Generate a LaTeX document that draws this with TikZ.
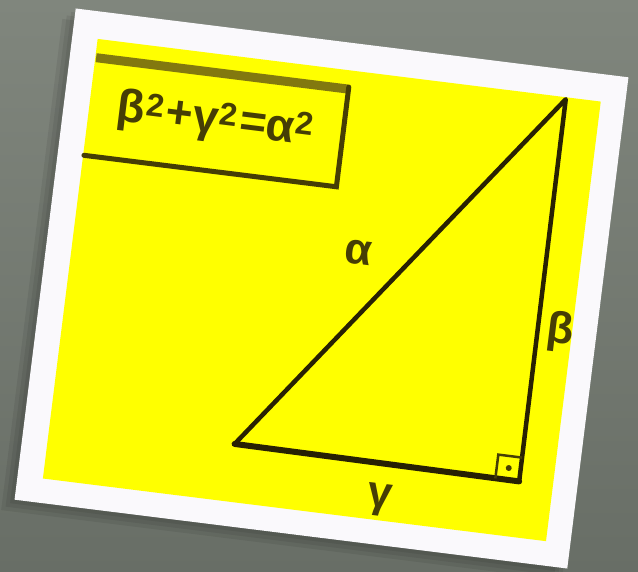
\documentclass[tikz,border=0pt]{standalone}
\usepackage{fontspec}
\setmainfont{Liberation Sans}
\usepackage{tikz}
\usepackage{xcolor}
\definecolor{BgGrey}{RGB}{128,134,125}
\definecolor{BgDark}{RGB}{104,110,102}
\definecolor{CardWhite}{RGB}{250,249,252}
\definecolor{CardYellow}{RGB}{255,255,0}
\definecolor{InkDark}{RGB}{40,33,3}
\definecolor{InkOlive}{RGB}{70,62,5}
\definecolor{BandOlive}{RGB}{130,120,15}
\newcommand{\sq}{\kern1pt\textsuperscript{2}\kern2pt}

\begin{document}
\begin{tikzpicture}[
x=1pt,y=-1pt,
leg/.style={draw=InkDark,line width=4.5pt,line join=round,line cap=round},
lbl/.style={text=InkOlive,font=\fontsize{44}{50}\selectfont\bfseries,inner sep=0pt},
formula/.style={minimum width=254pt,minimum height=100pt,inner sep=0pt,
text=InkOlive,font=\fontsize{46}{56}\selectfont\bfseries},
edge/.style={draw=InkOlive,line width=5pt,line cap=round}
]
\useasboundingbox (0,0) rectangle (638,572);
\shade[top color=BgGrey,bottom color=BgDark] (0,0) rectangle (638,572);
\begin{scope}[shift={(321.5,288.5)},rotate=-7.1,transform shape]
% soft shadow under the card
\foreach \s in {4,8,12}
  \fill[black,opacity=0.07] (-278.5-\s,-247.5+\s) rectangle (278.5-\s,247.5+\s);
\fill[CardWhite] (-278.5,-247.5) rectangle (278.5,247.5);
\fill[CardYellow] (-253,-220) rectangle (254,223);
% formula box
\node[formula] (f) at (-125,-153) {β\sq+γ\sq=α\sq};
\draw[BandOlive,line width=9pt] ([yshift=-2pt]f.north west) -- ([yshift=-2pt]f.north east);
\draw[edge] (f.south west) -- (f.south east) -- (f.north east);
% triangle
\coordinate (top) at (219,-218);
\coordinate (rt) at (220,167);
\coordinate (lft) at (-67,165);
\draw[leg] (lft) -- (top) -- (rt);
\draw[leg,line width=6pt] (lft) -- (rt);
\draw[InkOlive,line width=2.5pt] (196,167) -- (196,143) -- (220,143);
\fill[InkOlive] (208,155) circle (3);
\node[lbl] (alpha) at (32,-40) {α};
\node[lbl] (beta) at (242,14) {β};
\node[lbl] (gamma) at (84,203) {γ};
\end{scope}
\end{tikzpicture}
\end{document}
